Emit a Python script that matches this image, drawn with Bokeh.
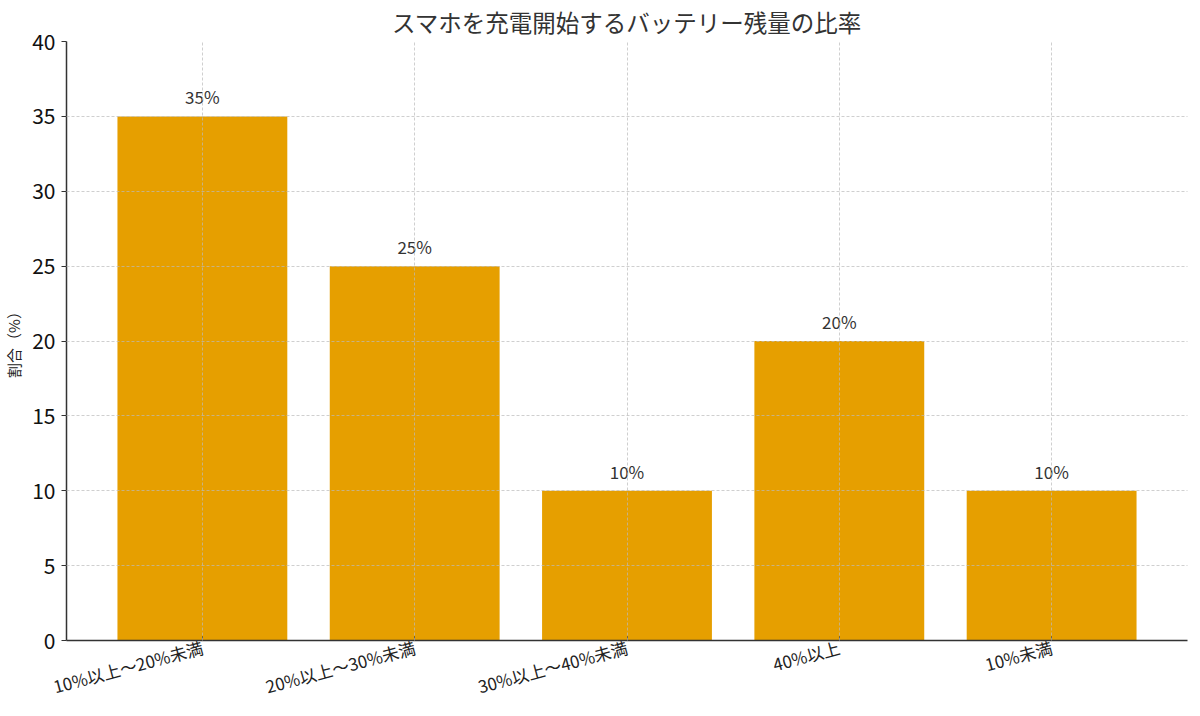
import math
from bokeh.plotting import figure
from bokeh.models import ColumnDataSource, FactorRange, Range1d, FixedTicker
from bokeh.core.properties import value
from bokeh.embed import file_html
from bokeh.resources import INLINE

categories = ["10%以上～20%未満", "20%以上～30%未満", "30%以上～40%未満", "40%以上", "10%未満"]
shares = [35, 25, 10, 20, 10]
bar_labels = ["35%", "25%", "10%", "20%", "10%"]
y_ticks = [0, 5, 10, 15, 20, 25, 30, 35, 40]

FONT = "Noto Sans CJK JP"

source = ColumnDataSource(data=dict(cat=categories, share=shares, label=bar_labels))

p = figure(
    x_range=FactorRange(factors=categories, range_padding=0.14, range_padding_units="absolute"),
    y_range=Range1d(0, 40),
    frame_width=1121, frame_height=599,
    min_border_left=60, min_border_right=2, min_border_top=31, min_border_bottom=60,
    output_backend="svg", toolbar_location=None,
)
p.title.text = "スマホを充電開始するバッテリー残量の比率"
p.title.align = "center"
p.title.text_font = FONT
p.title.text_font_size = "23.5px"
p.title.text_font_style = "normal"
p.title.text_color = "#333333"
p.title.offset = 0
p.title.standoff = 5

p.outline_line_color = None

p.vbar(x="cat", top="share", width=0.8, source=source, color="#E69F00", line_color=None)
p.text(x="cat", y="share", text="label", source=source, text_align="center",
       text_baseline="bottom", y_offset=-7, text_font=value(FONT),
       text_font_size="17px", text_color="#333333")

for g in (p.xgrid, p.ygrid):
    g.grid_line_color = "#bbbbbb"
    g.grid_line_alpha = 0.7
    g.grid_line_dash = "3 2"
    g.grid_line_width = 1
    g.level = "overlay"

p.yaxis.ticker = FixedTicker(ticks=y_ticks)
p.yaxis.minor_tick_line_color = None
p.yaxis.major_tick_in = 0
p.yaxis.major_tick_out = 5
p.yaxis.major_label_text_font = FONT
p.yaxis.major_label_text_font_size = "21px"
p.yaxis.major_label_text_color = "#111111"
p.yaxis.major_label_standoff = 6
p.yaxis.axis_label = "割合（%）"
p.yaxis.axis_label_text_font = FONT
p.yaxis.axis_label_text_font_size = "15px"
p.yaxis.axis_label_text_font_style = "normal"
p.yaxis.axis_label_text_color = "#222222"
p.yaxis.axis_label_standoff = 5

p.xaxis.major_tick_in = 4
p.xaxis.major_tick_out = 0
p.xaxis.major_label_orientation = math.radians(15)
p.xaxis.major_label_text_font = FONT
p.xaxis.major_label_text_font_size = "17px"
p.xaxis.major_label_text_color = "#222222"
p.xaxis.major_label_standoff = 6

for ax in (p.xaxis, p.yaxis):
    ax.axis_line_color = "#333333"
    ax.axis_line_width = 1.5
    ax.major_tick_line_color = "#333333"

open("out.html", "w").write(file_html(p, INLINE))
